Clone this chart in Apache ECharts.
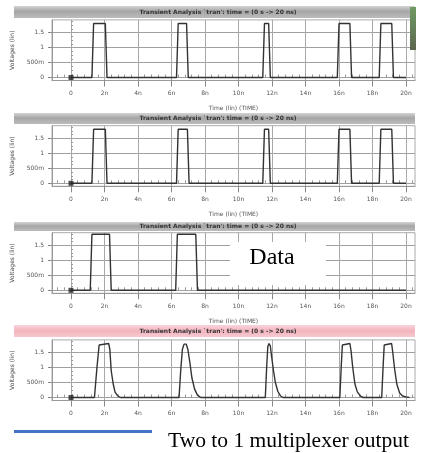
<!DOCTYPE html>
<html>
<head>
<meta charset="utf-8">
<script src="https://cdn.jsdelivr.net/npm/echarts@6/dist/echarts.min.js"></script>
<style>html,body{margin:0;padding:0;background:#fff;}#c{width:423px;height:453px;}</style>
</head>
<body>
<div id="c"></div>
<script>
// ---- tick values / labels ----
const timeTicks = [0, 2, 4, 6, 8, 10, 12, 14, 16, 18, 20];
const timeTickLabels = ['0', '2n', '4n', '6n', '8n', '10n', '12n', '14n', '16n', '18n', '20n'];
const voltTicks = [0, 0.5, 1, 1.5];
const voltTickLabels = ['0', '500m', '1', '1.5'];

// ---- panel 1 (input A) ----
const aTime = [0, 1.25, 1.35, 2.05, 2.15, 6.3, 6.4, 6.9, 7.0, 11.45, 11.55, 11.8, 11.9, 15.9, 16.0, 16.65, 16.75, 18.4, 18.5, 19.15, 19.25, 20.0];
const aVolt = [0, 0, 1.8, 1.8, 0, 0, 1.8, 1.8, 0, 0, 1.8, 1.8, 0, 0, 1.8, 1.8, 0, 0, 1.8, 1.8, 0, 0];
// ---- panel 2 (input B) ----
const bTime = [0, 1.25, 1.35, 2.05, 2.15, 6.3, 6.4, 6.95, 7.05, 11.45, 11.55, 11.8, 11.9, 15.9, 16.0, 16.65, 16.75, 18.4, 18.5, 19.15, 19.25, 20.0];
const bVolt = [0, 0, 1.8, 1.8, 0, 0, 1.8, 1.8, 0, 0, 1.8, 1.8, 0, 0, 1.8, 1.8, 0, 0, 1.8, 1.8, 0, 0];
// ---- panel 3 (Data / select) ----
const dTime = [0, 1.15, 1.25, 2.3, 2.4, 6.25, 6.35, 7.45, 7.55, 20.0];
const dVolt = [0, 0, 1.87, 1.87, 0, 0, 1.87, 1.87, 0, 0];
// ---- panel 4 (mux output) ----
const oTime = [0, 1.4, 1.55, 1.68, 1.75, 2.25, 2.32, 2.4, 2.52, 2.63, 2.8, 2.95,
  6.45, 6.55, 6.65, 6.75, 6.88, 6.98, 7.1, 7.22, 7.38, 7.55, 7.75,
  11.6, 11.68, 11.75, 11.82, 11.9, 11.98, 12.1, 12.2, 12.35, 12.5, 12.65,
  16.05, 16.13, 16.2, 16.27, 16.65, 16.72, 16.82, 16.95, 17.1, 17.3, 17.45,
  18.55, 18.63, 18.7, 18.76, 19.14, 19.2, 19.32, 19.45, 19.62, 19.8, 20.0, 20.2];
const oVolt = [0, 0, 1.0, 1.75, 1.8, 1.8, 1.6, 0.9, 0.45, 0.18, 0.05, 0,
  0, 0.9, 1.6, 1.78, 1.78, 1.6, 1.15, 0.65, 0.28, 0.08, 0,
  0, 1.0, 1.7, 1.8, 1.72, 1.35, 0.85, 0.5, 0.2, 0.06, 0,
  0, 1.0, 1.75, 1.8, 1.8, 1.55, 1.0, 0.45, 0.18, 0.04, 0,
  0, 1.0, 1.75, 1.8, 1.8, 1.55, 0.95, 0.45, 0.15, 0.05, 0.02, 0];

const panelTitle = "Transient Analysis `tran': time = (0 s -> 20 ns)";
const xName = 'Time (lin) (TIME)';
const yName = 'Voltages (lin)';
const dataLabel = 'Data';
const captionText = 'Two to 1 multiplexer output';

// ---- layout (styles) ----
const X_MIN = -1.134, X_MAX = 20.537;
const Y_MIN = -0.1, Y_MAX = 1.92;
const zeroY = [77.5, 183.3, 290.3, 397.5];
const PX_PER_V = 30;
const panelsData = [[aTime, aVolt], [bTime, bVolt], [dTime, dVolt], [oTime, oVolt]];

const minorX = [];
for (let v = -0.8; v <= 20.45; v += 0.4) { if (Math.abs(v / 2 - Math.round(v / 2)) > 0.01) minorX.push(+v.toFixed(2)); }
const minorY = [0.125, 0.25, 0.375, 0.625, 0.75, 0.875, 1.125, 1.25, 1.375, 1.625, 1.75, 1.875];

const grids = [], xAxes = [], yAxes = [], series = [];
const lblStyle = { fontSize: 6, color: '#555', fontFamily: 'DejaVu Sans' };
panelsData.forEach((pd, i) => {
  const top = zeroY[i] - Y_MAX * PX_PER_V;
  const height = (Y_MAX - Y_MIN) * PX_PER_V;
  grids.push({ left: 52, width: 363, top: top, height: height, show: true, borderColor: '#aaa', borderWidth: 1, backgroundColor: '#fff' });
  xAxes.push({
    type: 'value', gridIndex: i, min: X_MIN, max: X_MAX,
    axisLine: { show: true, onZero: false, lineStyle: { color: '#999', width: 1 } },
    axisTick: { show: true, customValues: timeTicks, length: 6, lineStyle: { color: '#888' } },
    axisLabel: Object.assign({ customValues: timeTicks, margin: 10, formatter: v => timeTickLabels[timeTicks.indexOf(Math.round(v))] }, lblStyle),
    splitLine: { show: true, lineStyle: { color: '#a8a8a8', width: 1 } },
    name: i < 3 ? xName : '', nameLocation: 'middle', nameGap: 25,
    nameTextStyle: { fontSize: 6, color: '#555', fontFamily: 'DejaVu Sans' }
  });
  xAxes.push({
    type: 'value', gridIndex: i, min: X_MIN, max: X_MAX,
    axisLine: { show: false },
    axisTick: { show: true, customValues: minorX, length: 3, lineStyle: { color: '#999' } },
    axisLabel: { show: false }, splitLine: { show: false }
  });
  yAxes.push({
    type: 'value', gridIndex: i, min: Y_MIN, max: Y_MAX,
    axisLine: { show: true, onZero: false, lineStyle: { color: '#999', width: 1 } },
    axisTick: { show: true, customValues: voltTicks, length: 4, lineStyle: { color: '#888' } },
    axisLabel: Object.assign({ customValues: voltTicks, margin: 8, formatter: v => voltTickLabels[voltTicks.indexOf(v)] }, lblStyle),
    splitLine: { show: true, lineStyle: { color: '#a0a0a0', width: 1 } },
    name: yName, nameLocation: 'middle', nameGap: 31, nameRotate: 90,
    nameTextStyle: { fontSize: 6, color: '#444', fontFamily: 'DejaVu Sans' }
  });
  yAxes.push({
    type: 'value', gridIndex: i, min: Y_MIN, max: Y_MAX,
    axisLine: { show: false },
    axisTick: { show: true, customValues: minorY, length: 2, lineStyle: { color: '#999' } },
    axisLabel: { show: false }, splitLine: { show: false }
  });
  series.push({
    type: 'line', xAxisIndex: 2 * i, yAxisIndex: 2 * i,
    data: pd[0].map((t, k) => [t, pd[1][k]]),
    showSymbol: false, symbol: 'none', animation: false,
    lineStyle: { color: '#333', width: 1.4 }, z: 3
  });
  series.push({
    type: 'scatter', xAxisIndex: 2 * i, yAxisIndex: 2 * i,
    data: [[pd[0][0], pd[1][0]]], symbol: 'rect', symbolSize: 5,
    itemStyle: { color: '#222' }, animation: false, z: 4
  });
});

const grayBar = () => new echarts.graphic.LinearGradient(0, 0, 0, 1, [
  { offset: 0, color: '#d4d4d4' }, { offset: 0.45, color: '#a6a6a6' }, { offset: 1, color: '#bcbcbc' }]);
const pinkBar = () => new echarts.graphic.LinearGradient(0, 0, 0, 1, [
  { offset: 0, color: '#f9d3d9' }, { offset: 0.5, color: '#f2b5be' }, { offset: 1, color: '#f7c9d0' }]);
const bars = [[6, 12, grayBar()], [113, 11, grayBar()], [222, 9, grayBar()], [325, 12, pinkBar()]];

const graphic = [];
bars.forEach(b => {
  graphic.push({ type: 'rect', shape: { x: 14, y: b[0], width: 401, height: b[1] }, style: { fill: b[2] }, z: 50 });
  graphic.push({ type: 'text', x: 218, y: b[0] + b[1] / 2, z: 51,
    style: { text: panelTitle, font: 'bold 6px DejaVu Sans', fill: '#333', textAlign: 'center', textVerticalAlign: 'middle' } });
});
graphic.push({ type: 'rect', shape: { x: 410, y: 7, width: 6, height: 43 }, z: 52,
  style: { fill: new echarts.graphic.LinearGradient(0, 0, 0, 1, [{ offset: 0, color: '#6f9a62' }, { offset: 1, color: '#5c6650' }]) } });
graphic.push({ type: 'rect', shape: { x: 230, y: 242, width: 96, height: 43 }, style: { fill: '#fff' }, z: 60 });
graphic.push({ type: 'text', x: 272, y: 270, z: 61,
  style: { text: dataLabel, font: '24px "Liberation Serif", serif', fill: '#000', textAlign: 'center', textVerticalAlign: 'bottom' } });
graphic.push({ type: 'rect', shape: { x: 14, y: 430, width: 138, height: 3 }, style: { fill: '#4472c4' }, z: 60 });
graphic.push({ type: 'text', x: 168, y: 452, z: 61,
  style: { text: captionText, font: '21.5px "Liberation Serif", serif', fill: '#000', textAlign: 'left', textVerticalAlign: 'bottom' } });

const chart = echarts.init(document.getElementById('c'), null, { renderer: 'canvas' });
chart.setOption({
  animation: false,
  backgroundColor: '#fff',
  grid: grids, xAxis: xAxes, yAxis: yAxes, series: series, graphic: graphic
});
</script>
</body>
</html>
